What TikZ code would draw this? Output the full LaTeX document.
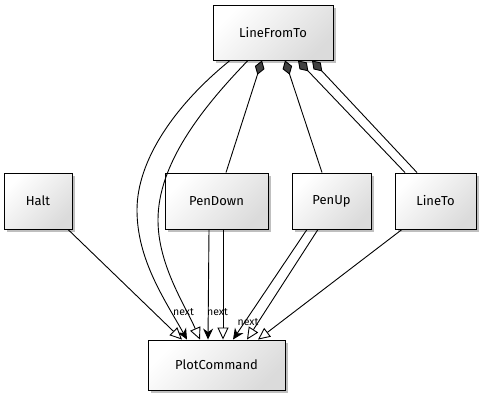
\documentclass[tikz,border=0pt]{standalone}
\usepackage{fontspec}
\setmainfont{Fira Sans}
\usetikzlibrary{arrows.meta,shadows}
\begin{document}
\begin{tikzpicture}[x=1pt,y=-1pt,
  cls/.style={draw=black, line width=0.9pt, top color=white, bottom color=black!14, shading angle=45,
    drop shadow={shadow xshift=3pt, shadow yshift=-3pt, opacity=0.25, fill=black},
    minimum height=55pt, inner sep=0pt, font=\fontsize{13}{15}\selectfont},
  link/.style={line width=0.9pt},
  inh/.style={link, -{Triangle[length=12pt, width=11pt, fill=white]}},
  nxt/.style={link, -{Stealth[length=11pt, width=10pt, inset=3.5pt]}},
  comp/.style={link, {Diamond[length=15pt, width=10pt, fill=black!75]}-},
  lbl/.style={font=\fontsize{10.5}{11}\selectfont, inner sep=0pt}
]
\useasboundingbox (0,0) rectangle (485,400);

\node[cls, minimum width=120pt] (LFT) at (273,32.5) {LineFromTo};
\node[cls, minimum width=68pt, minimum height=56pt] (Halt) at (38,201) {Halt};
\node[cls, minimum width=103pt, minimum height=56pt] (PD) at (216.5,201) {PenDown};
\node[cls, minimum width=79pt, minimum height=56pt] (PU) at (331.5,201) {PenUp};
\node[cls, minimum width=81pt, minimum height=56pt] (LT) at (435.5,201) {LineTo};
\node[cls, minimum width=137pt, minimum height=50pt] (PC) at (216.5,365) {PlotCommand};

% composition from LineFromTo
\draw[comp] ([xshift=-11pt]LFT.south) -- ([xshift=9.5pt]PD.north);
\draw[comp] ([xshift=12pt]LFT.south) -- ([xshift=-9.5pt]PU.north);
\draw[comp] ([xshift=25pt]LFT.south) -- ([xshift=-30.5pt]LT.north);
\draw[comp] ([xshift=39pt]LFT.south) -- ([xshift=-18.5pt]LT.north);

% curves from LineFromTo to PlotCommand
\draw[nxt] ([xshift=-43pt]LFT.south) .. controls (175,105) and (137,160) .. (137,210)
   .. controls (137,260) and (165,300) .. ([xshift=-29.5pt]PC.north);
\draw[inh] ([xshift=-25pt]LFT.south) .. controls (200,110) and (158,165) .. (158,220)
   .. controls (158,265) and (185,305) .. ([xshift=-16.5pt]PC.north);

% to PlotCommand
\draw[inh] ([xshift=30pt]Halt.south) -- ([xshift=-34.5pt]PC.north);
\draw[nxt] ([xshift=-7.5pt]PD.south) -- ([xshift=-8.5pt]PC.north);
\draw[inh] ([xshift=6.5pt]PD.south) -- ([xshift=6.5pt]PC.north);
\draw[nxt] ([xshift=-24.5pt]PU.south) -- ([xshift=16.5pt]PC.north);
\draw[inh] ([xshift=-13.5pt]PU.south) -- ([xshift=30.5pt]PC.north);
\draw[inh] ([xshift=-33.5pt]LT.south) -- ([xshift=41.5pt]PC.north);

\node[lbl] (n1) at (183.5,312) {next};
\node[lbl] (n2) at (217.5,312) {next};
\node[lbl] (n3) at (248,322) {next};
\end{tikzpicture}
\end{document}
